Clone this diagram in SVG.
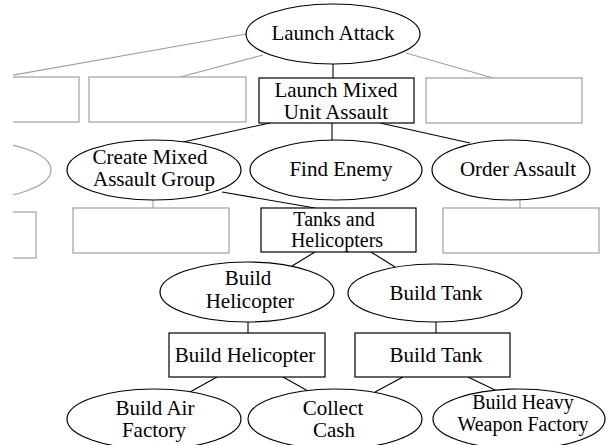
<svg xmlns="http://www.w3.org/2000/svg" width="606" height="445" viewBox="0 0 606 445">
<defs>
<style>
.n{fill:#fff;stroke:#000;stroke-width:1.2}
.g{fill:#fff;stroke:#a0a0a0;stroke-width:1.2}
.c{stroke:#000;stroke-width:1.1;fill:none}
.cg{stroke:#a0a0a0;stroke-width:1.1;fill:none}
.t{font-family:'Times New Roman',Times,Tinos,'Liberation Serif','Nimbus Roman','Noto Serif','DejaVu Serif',serif;font-size:21px;fill:#000;text-anchor:middle}
.s{font-size:20px}
</style>
<clipPath id="clip"><rect x="13" y="0" width="593" height="445"/></clipPath>
</defs>
<rect x="0" y="0" width="606" height="445" fill="#fff"/>
<g clip-path="url(#clip)">
<g id="connectors">
<line class="cg" x1="246" y1="34" x2="-20" y2="81"/>
<line class="cg" x1="263" y1="55" x2="180" y2="77"/>
<line class="c" x1="333" y1="64" x2="333" y2="78"/>
<line class="cg" x1="406" y1="53" x2="493" y2="78"/>
<line class="c" x1="270" y1="123" x2="183" y2="142"/>
<line class="c" x1="332" y1="123" x2="332" y2="140"/>
<line class="c" x1="380" y1="123" x2="470" y2="143"/>
<line class="cg" x1="153" y1="200" x2="153" y2="208"/>
<line class="c" x1="222" y1="192" x2="315" y2="208"/>
<line class="cg" x1="520" y1="200" x2="520" y2="208"/>
<line class="c" x1="315" y1="252" x2="292" y2="266"/>
<line class="c" x1="371" y1="252" x2="395" y2="267"/>
<line class="c" x1="248" y1="322" x2="248" y2="333"/>
<line class="c" x1="436" y1="322" x2="436" y2="333"/>
<line class="c" x1="217" y1="377" x2="190" y2="392"/>
<line class="c" x1="283" y1="377" x2="308" y2="391"/>
<line class="c" x1="403" y1="377" x2="375" y2="392"/>
<line class="c" x1="468" y1="377" x2="495" y2="390"/>
</g>
<g id="launch-attack"><ellipse class="n" cx="333" cy="34" rx="87" ry="30"/><text class="t" x="333" y="40">Launch Attack</text></g>
<g id="box-a"><rect class="g" x="-80" y="77" width="159" height="45"/></g>
<g id="box-b"><rect class="g" x="89" y="77" width="157" height="45"/></g>
<g id="launch-mixed"><rect class="n" x="259" y="78" width="155" height="45"/><text class="t" x="336" y="97">Launch Mixed</text><text class="t" x="336" y="119">Unit Assault</text></g>
<g id="box-d"><rect class="g" x="426" y="78" width="156" height="45"/></g>
<g id="ellipse-left"><ellipse class="g" cx="-36" cy="170" rx="87" ry="30"/></g>
<g id="create-mixed"><ellipse class="n" cx="154" cy="170" rx="87" ry="30"/><text class="t" x="150" y="164">Create Mixed</text><text class="t" x="154" y="186">Assault Group</text></g>
<g id="find-enemy"><ellipse class="n" cx="336" cy="170" rx="86" ry="30"/><text class="t" x="341" y="176">Find Enemy</text></g>
<g id="order-assault"><ellipse class="n" cx="511" cy="170" rx="79" ry="30"/><text class="t" x="518" y="176">Order Assault</text></g>
<g id="box-left2"><rect class="g" x="-120" y="212" width="156" height="46"/></g>
<g id="box-create"><rect class="g" x="73" y="208" width="156" height="45"/></g>
<g id="tanks-heli"><rect class="n" x="261" y="208" width="155" height="44"/><text class="t s" x="334" y="226">Tanks and</text><text class="t s" x="337" y="247">Helicopters</text></g>
<g id="box-order"><rect class="g" x="443" y="208" width="156" height="45"/></g>
<g id="build-heli-e"><ellipse class="n" cx="247" cy="292" rx="87" ry="30"/><text class="t" x="248" y="285">Build</text><text class="t" x="250" y="308">Helicopter</text></g>
<g id="build-tank-e"><ellipse class="n" cx="435" cy="293" rx="87" ry="29"/><text class="t" x="436" y="300">Build Tank</text></g>
<g id="build-heli-b"><rect class="n" x="169" y="333" width="156" height="44"/><text class="t" x="245" y="362">Build Helicopter</text></g>
<g id="build-tank-b"><rect class="n" x="355" y="333" width="155" height="44"/><text class="t" x="436" y="362">Build Tank</text></g>
<g id="air-factory"><ellipse class="n" cx="154" cy="419" rx="87" ry="30"/><text class="t" x="155" y="415">Build Air</text><text class="t" x="154" y="437">Factory</text></g>
<g id="collect-cash"><ellipse class="n" cx="335" cy="419" rx="87" ry="30"/><text class="t" x="333" y="415">Collect</text><text class="t" x="334" y="437">Cash</text></g>
<g id="heavy-factory"><ellipse class="n" cx="519" cy="419" rx="86" ry="30"/><text class="t s" x="523" y="409">Build Heavy</text><text class="t s" x="523" y="431">Weapon Factory</text></g>
</g>
</svg>
